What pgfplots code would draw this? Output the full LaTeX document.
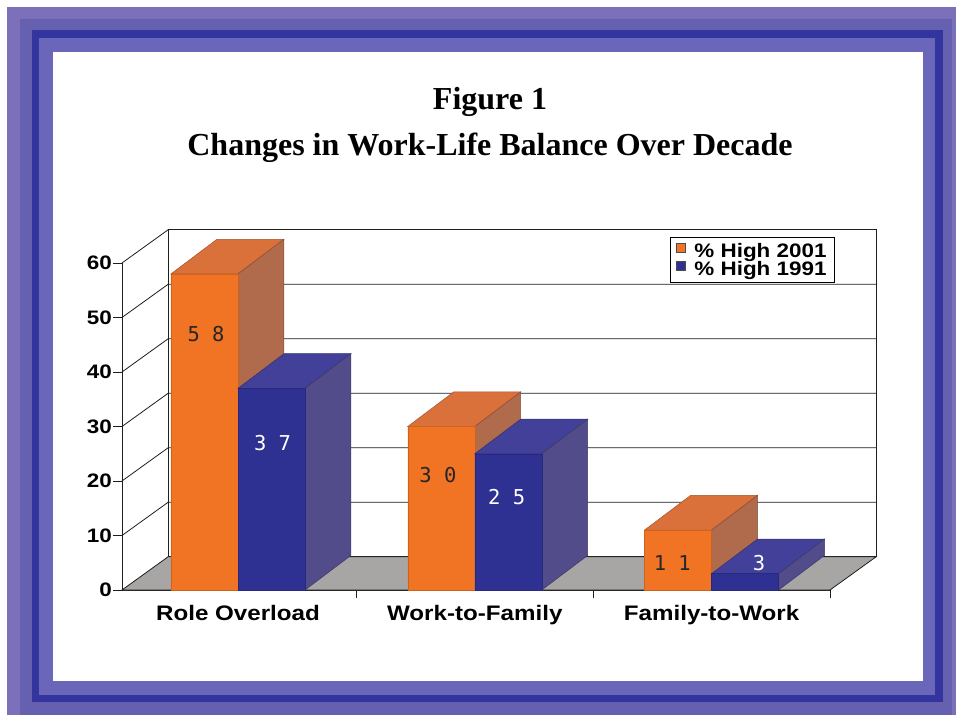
\documentclass[border=0pt]{standalone}
\usepackage{pgfplots}
\pgfplotsset{compat=1.18}
\usepackage{pgfplotstable}
\usepackage{fontspec}
\setmainfont{Liberation Serif}
\newfontfamily\lblfont{Liberation Sans}[FakeStretch=1.15]
\newfontfamily\valfont{DejaVu Sans Mono}

\definecolor{orF}{RGB}{240,116,36}
\definecolor{orT}{RGB}{218,112,58}
\definecolor{orS}{RGB}{176,106,76}
\definecolor{blF}{RGB}{46,49,146}
\definecolor{blT}{RGB}{66,64,152}
\definecolor{blS}{RGB}{82,76,138}
\definecolor{floorc}{RGB}{168,165,165}
\definecolor{gridc}{RGB}{30,30,30}
\definecolor{fr0}{RGB}{123,112,185}
\definecolor{fr1}{RGB}{102,96,176}
\definecolor{fr2}{RGB}{51,52,157}
\definecolor{fr3}{RGB}{106,102,186}

\pgfplotstableread{
idx y2001 y1991
0 58 37
1 30 25
2 11 3
}\datatable

\def\bw{0.283}
\def\ddx{0.194}
\def\ddy{6.35}

\begin{document}
\begin{tikzpicture}
\useasboundingbox (0pt,0pt) rectangle (956pt,721pt);
\fill[white] (0pt,0pt) rectangle (956pt,721pt);
\fill[fr0] (7pt,6pt) rectangle (956pt,714pt);
\fill[fr1] (20pt,6pt) rectangle (952pt,702pt);
\fill[fr2] (32pt,19pt) rectangle (943pt,691pt);
\fill[fr3] (39pt,26pt) rectangle (935pt,683pt);
\fill[white] (53pt,40pt) rectangle (923pt,669pt);

\node[anchor=base, font=\bfseries\fontsize{32}{32}\selectfont] at (490pt,611pt) {Figure 1};
\node[anchor=base, font=\bfseries\fontsize{32}{32}\selectfont] at (490pt,565pt) {Changes in Work-Life Balance Over Decade};

\begin{axis}[
  at={(238pt,131pt)}, anchor=origin,
  scale only axis, width=708pt, height=327pt,
  xmin=-0.49, xmax=2.5, ymin=0, ymax=60,
  clip=false,
  axis lines*=left,
  axis line style={gridc, line width=0.8pt},
  xtick={0,1,2},
  xticklabels={Role Overload,Work-to-Family,Family-to-Work},
  minor xtick={0.5,1.5,2.5},
  ytick={0,10,20,30,40,50,60},
  tick align=outside,
  major tick length=9pt, minor tick length=8pt,
  major x tick style={draw=none},
  minor x tick style={gridc,line width=0.8pt},
  major y tick style={gridc,line width=0.8pt},
  /pgf/number format/assume math mode=true,
  yticklabel style={font=\lblfont\bfseries\fontsize{19.5}{19.5}\selectfont, inner sep=0pt, xshift=-1pt},
  xticklabel style={font=\lblfont\bfseries\fontsize{21}{21}\selectfont, inner sep=0pt, anchor=north, yshift=-6pt},
  legend style={at={(1.007,1.0795)}, anchor=north east, draw=black, line width=0.8pt,
    font=\lblfont\bfseries\fontsize{19.5}{19.5}\selectfont, inner xsep=6pt, inner ysep=4pt, row sep=-2pt,
    /tikz/every odd column/.append style={column sep=7pt}},
  legend cell align=left,
]
% back wall and left wall
\draw[gridc, line width=0.8pt] (axis cs:-0.295,6.1) rectangle (axis cs:2.695,66.1);
\draw[gridc, line width=0.8pt] (axis cs:-0.49,60) -- (axis cs:-0.295,66.1);
\pgfplotsinvokeforeach{10,20,30,40,50}{
  \draw[gridc, line width=0.8pt] (axis cs:-0.49,#1) -- (axis cs:-0.295,#1+6.1) -- (axis cs:2.695,#1+6.1);
}
% floor
\filldraw[fill=floorc, draw=gridc, line width=0.8pt] (axis cs:-0.49,0) -- (axis cs:2.5,0) -- (axis cs:2.695,6.1) -- (axis cs:-0.295,6.1) -- cycle;

% 2001 series: top and side faces
\pgfplotsinvokeforeach{0,1,2}{
  \pgfplotstablegetelem{#1}{y2001}\of\datatable
  \edef\v{\pgfplotsretval}
  \pgfmathsetmacro\vtop{\v+\ddy}
  \pgfmathsetmacro\xl{#1-\bw}
  \pgfmathsetmacro\xlb{#1-\bw+\ddx}
  \pgfmathsetmacro\xrb{#1+\ddx}
  \edef\temp{\noexpand\addplot[forget plot, mark=none, fill=orT, draw=orT!75!black, line width=0.5pt] coordinates {(\xl,\v) (#1,\v) (\xrb,\vtop) (\xlb,\vtop)} -- cycle;
  \noexpand\addplot[forget plot, mark=none, fill=orS, draw=orS!75!black, line width=0.5pt] coordinates {(#1,0) (#1,\v) (\xrb,\vtop) (\xrb,\ddy)} -- cycle;}
  \temp
}
\addplot[ybar, bar width=0.283, bar shift=-0.1415, fill=orF, draw=orF!85!black, line width=0.5pt,
  legend image code/.code={\draw[fill=orF, draw=black!70, line width=0.4pt] (0pt,-1pt) rectangle (9pt,8pt);}]
  table[x=idx, y=y2001]{\datatable};
\addlegendentry{\% High 2001}

% 1991 series: top and side faces
\pgfplotsinvokeforeach{0,1,2}{
  \pgfplotstablegetelem{#1}{y1991}\of\datatable
  \edef\v{\pgfplotsretval}
  \pgfmathsetmacro\vtop{\v+\ddy}
  \pgfmathsetmacro\xr{#1+\bw}
  \pgfmathsetmacro\xlb{#1+\ddx}
  \pgfmathsetmacro\xrb{#1+\bw+\ddx}
  \edef\temp{\noexpand\addplot[forget plot, mark=none, fill=blT, draw=blT!75!black, line width=0.5pt] coordinates {(#1,\v) (\xr,\v) (\xrb,\vtop) (\xlb,\vtop)} -- cycle;
  \noexpand\addplot[forget plot, mark=none, fill=blS, draw=blS!75!black, line width=0.5pt] coordinates {(\xr,0) (\xr,\v) (\xrb,\vtop) (\xrb,\ddy)} -- cycle;}
  \temp
}
\addplot[ybar, bar width=0.283, bar shift=0.1415, fill=blF, draw=blF!85!black, line width=0.5pt,
  legend image code/.code={\draw[fill=blF, draw=black!70, line width=0.4pt] (0pt,-1pt) rectangle (9pt,8pt);}]
  table[x=idx, y=y1991]{\datatable};
\addlegendentry{\% High 1991}

% value labels
\node[font=\valfont\fontsize{20.5}{20.5}\selectfont, text=black!85] at (axis cs:-0.135,46.9) {5 8};
\node[font=\valfont\fontsize{20.5}{20.5}\selectfont, text=white] at (axis cs:0.146,27.0) {3 7};
\node[font=\valfont\fontsize{20.5}{20.5}\selectfont, text=black!85] at (axis cs:0.844,21.1) {3 0};
\node[font=\valfont\fontsize{20.5}{20.5}\selectfont, text=white] at (axis cs:1.135,17.1) {2 5};
\node[font=\valfont\fontsize{20.5}{20.5}\selectfont, text=black!85] at (axis cs:1.834,4.86) {1 1};
\node[font=\valfont\fontsize{20.5}{20.5}\selectfont, text=white] at (axis cs:2.2,4.86) {3};
\end{axis}
\end{tikzpicture}
\end{document}
